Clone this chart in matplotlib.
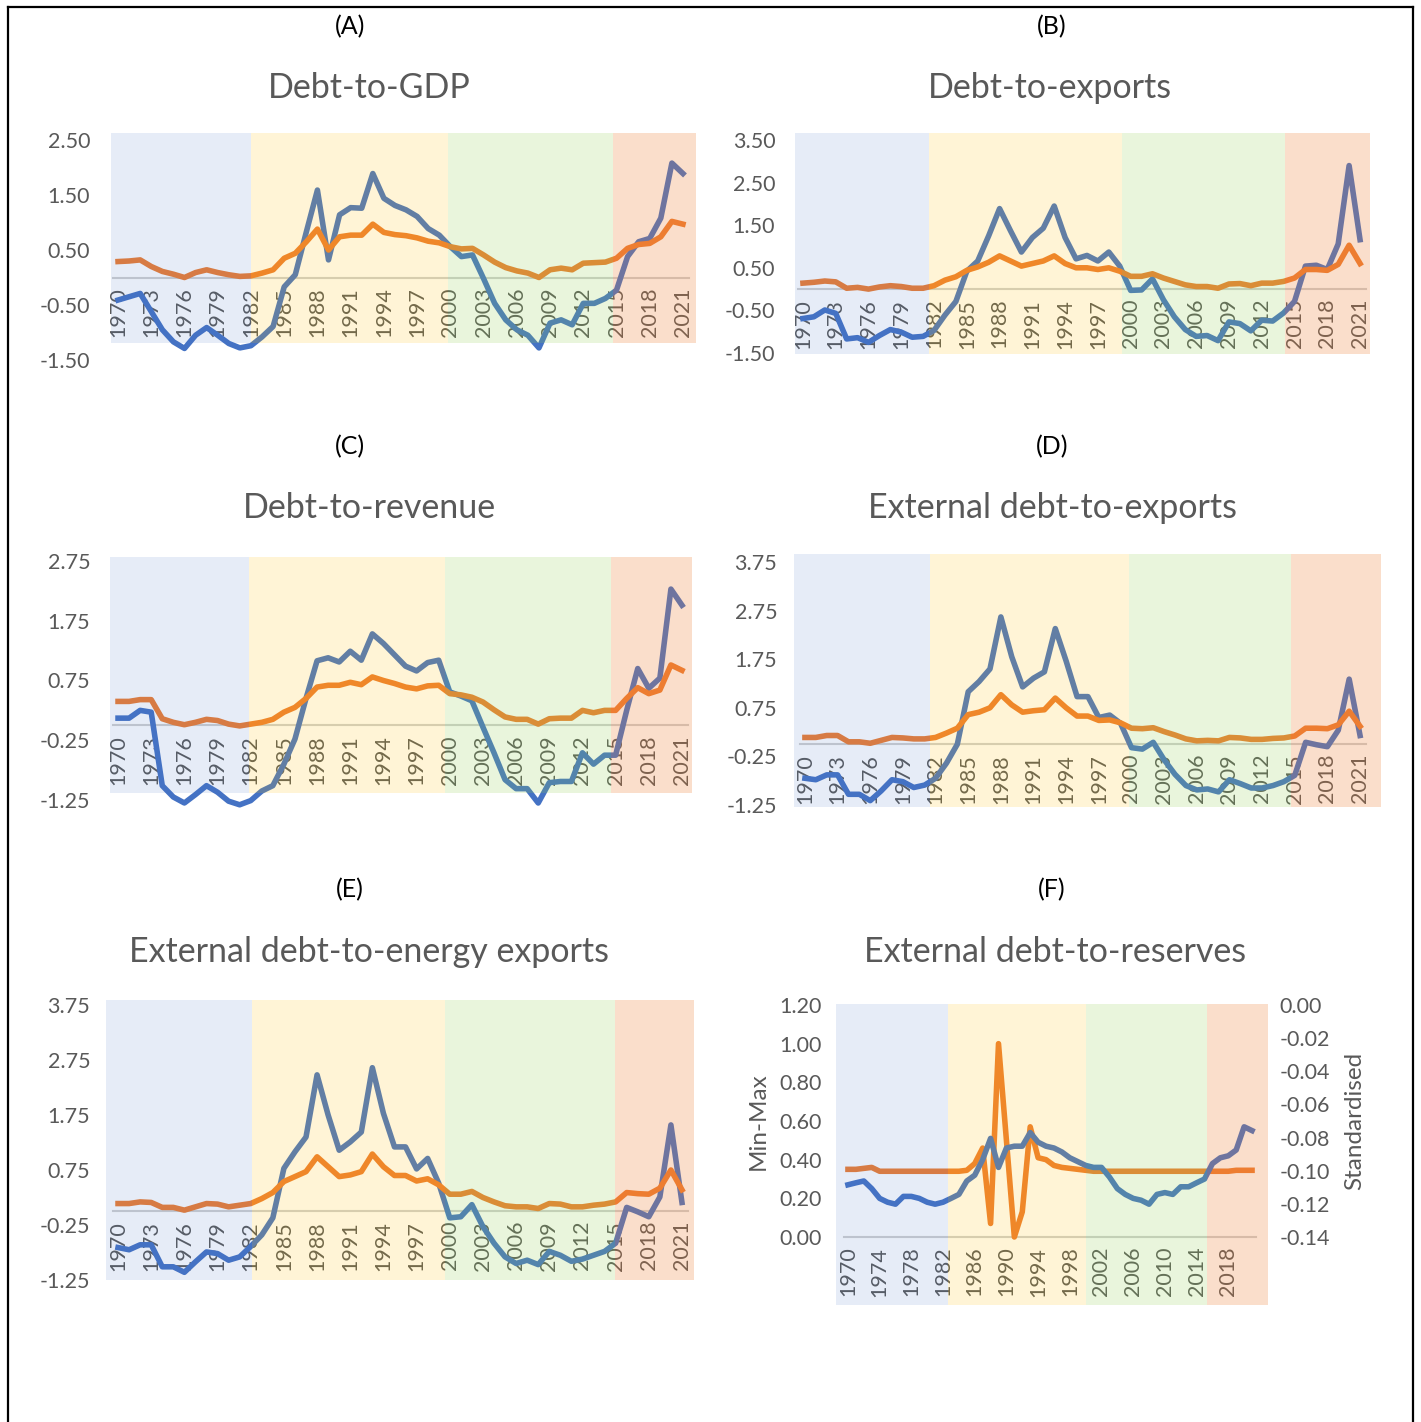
import matplotlib
matplotlib.use("Agg")
import matplotlib.pyplot as plt
from matplotlib.patches import Rectangle
from matplotlib.lines import Line2D

plt.rcParams['font.family'] = ['Lato', 'DejaVu Sans']

# ---- data ----
years = list(range(1970, 2022))

gdp_blue = [-0.41, -0.35, -0.29, -0.62, -0.95, -1.17, -1.29, -1.05, -0.91, -1.05,
            -1.20, -1.28, -1.24, -1.08, -0.89, -0.17, 0.05, 0.83, 1.59, 0.32,
            1.14, 1.27, 1.26, 1.89, 1.44, 1.31, 1.23, 1.11, 0.89, 0.77,
            0.56, 0.38, 0.41, -0.02, -0.47, -0.77, -0.95, -1.05, -1.28, -0.83,
            -0.77, -0.86, -0.47, -0.47, -0.38, -0.23, 0.38, 0.65, 0.71, 1.08,
            2.08, 1.89]
gdp_orange = [0.29, 0.30, 0.32, 0.20, 0.11, 0.06, 0.00, 0.09, 0.14, 0.09,
              0.05, 0.02, 0.03, 0.08, 0.14, 0.35, 0.44, 0.65, 0.88, 0.50,
              0.74, 0.77, 0.77, 0.97, 0.82, 0.78, 0.76, 0.72, 0.66, 0.63,
              0.56, 0.52, 0.53, 0.41, 0.28, 0.18, 0.12, 0.08, 0.00, 0.14,
              0.17, 0.14, 0.26, 0.27, 0.28, 0.35, 0.53, 0.60, 0.62, 0.74,
              1.02, 0.97]

exp_blue = [-0.69, -0.65, -0.49, -0.57, -1.17, -1.14, -1.25, -1.09, -0.95, -1.01,
            -1.13, -1.11, -0.97, -0.61, -0.29, 0.42, 0.66, 1.25, 1.89, 1.37,
            0.87, 1.21, 1.43, 1.95, 1.21, 0.71, 0.79, 0.66, 0.87, 0.54,
            -0.03, -0.02, 0.24, -0.25, -0.65, -0.95, -1.11, -1.09, -1.21, -0.77,
            -0.81, -0.98, -0.73, -0.75, -0.56, -0.29, 0.54, 0.56, 0.46, 1.06,
            2.90, 1.16]
exp_orange = [0.14, 0.16, 0.19, 0.17, 0.02, 0.04, 0.00, 0.05, 0.08, 0.06,
              0.02, 0.02, 0.08, 0.21, 0.29, 0.44, 0.52, 0.63, 0.78, 0.66,
              0.54, 0.60, 0.66, 0.78, 0.60, 0.50, 0.50, 0.46, 0.50, 0.42,
              0.30, 0.30, 0.36, 0.26, 0.18, 0.10, 0.06, 0.06, 0.02, 0.12,
              0.13, 0.08, 0.14, 0.14, 0.18, 0.26, 0.46, 0.46, 0.44, 0.58,
              1.03, 0.60]

rev_blue = [0.12, 0.12, 0.25, 0.22, -1.01, -1.20, -1.30, -1.16, -1.01, -1.12,
            -1.27, -1.33, -1.26, -1.10, -1.01, -0.65, -0.23, 0.45, 1.08, 1.13,
            1.06, 1.24, 1.09, 1.53, 1.37, 1.18, 0.99, 0.91, 1.05, 1.09,
            0.56, 0.49, 0.41, -0.03, -0.46, -0.91, -1.06, -1.06, -1.30, -0.96,
            -0.94, -0.94, -0.46, -0.65, -0.50, -0.50, 0.25, 0.95, 0.62, 0.79,
            2.28, 2.01]
rev_orange = [0.40, 0.40, 0.43, 0.43, 0.11, 0.05, 0.01, 0.05, 0.10, 0.08,
              0.02, -0.01, 0.02, 0.05, 0.10, 0.22, 0.30, 0.45, 0.64, 0.67,
              0.67, 0.72, 0.68, 0.81, 0.75, 0.70, 0.64, 0.61, 0.66, 0.67,
              0.53, 0.51, 0.47, 0.39, 0.26, 0.14, 0.10, 0.10, 0.02, 0.11,
              0.12, 0.12, 0.25, 0.21, 0.25, 0.25, 0.45, 0.63, 0.53, 0.59,
              1.01, 0.92]

extexp_blue = [-0.70, -0.73, -0.63, -0.63, -1.03, -1.03, -1.16, -0.96, -0.73, -0.77,
               -0.89, -0.84, -0.70, -0.39, 0.00, 1.08, 1.29, 1.55, 2.62, 1.80,
               1.18, 1.36, 1.49, 2.38, 1.71, 0.98, 0.98, 0.55, 0.60, 0.43,
               -0.07, -0.10, 0.04, -0.32, -0.62, -0.85, -0.94, -0.92, -0.98, -0.73,
               -0.81, -0.90, -0.90, -0.85, -0.77, -0.64, 0.04, -0.01, -0.05, 0.29,
               1.34, 0.18]
extexp_orange = [0.14, 0.14, 0.18, 0.18, 0.05, 0.05, 0.02, 0.08, 0.14, 0.13,
                 0.11, 0.11, 0.14, 0.23, 0.33, 0.61, 0.66, 0.75, 1.02, 0.81,
                 0.66, 0.69, 0.71, 0.95, 0.75, 0.58, 0.58, 0.49, 0.50, 0.44,
                 0.33, 0.32, 0.34, 0.26, 0.19, 0.11, 0.07, 0.08, 0.07, 0.14,
                 0.13, 0.10, 0.10, 0.12, 0.13, 0.17, 0.33, 0.33, 0.32, 0.40,
                 0.68, 0.37]

energy_blue = [-0.66, -0.70, -0.61, -0.61, -1.01, -1.01, -1.11, -0.92, -0.74, -0.77,
               -0.89, -0.83, -0.64, -0.43, -0.12, 0.78, 1.08, 1.35, 2.48, 1.75,
               1.11, 1.26, 1.44, 2.61, 1.78, 1.17, 1.17, 0.77, 0.96, 0.51,
               -0.12, -0.10, 0.12, -0.28, -0.58, -0.83, -0.95, -0.89, -0.97, -0.73,
               -0.80, -0.91, -0.87, -0.80, -0.73, -0.58, 0.07, -0.01, -0.10, 0.26,
               1.57, 0.16]
energy_orange = [0.14, 0.14, 0.17, 0.16, 0.07, 0.07, 0.02, 0.08, 0.14, 0.13,
                 0.08, 0.11, 0.14, 0.23, 0.34, 0.54, 0.63, 0.72, 0.99, 0.81,
                 0.63, 0.66, 0.72, 1.04, 0.81, 0.65, 0.65, 0.55, 0.59, 0.48,
                 0.31, 0.31, 0.36, 0.25, 0.17, 0.10, 0.08, 0.08, 0.05, 0.14,
                 0.13, 0.08, 0.08, 0.11, 0.13, 0.17, 0.34, 0.32, 0.31, 0.42,
                 0.75, 0.39]

# panel F: orange = Min-Max (left axis), blue = Standardised (right axis)
res_minmax = [0.35, 0.35, 0.355, 0.36, 0.34, 0.34, 0.34, 0.34, 0.34, 0.34,
              0.34, 0.34, 0.34, 0.34, 0.34, 0.345, 0.38, 0.46, 0.07, 1.00,
              0.50, 0.00, 0.13, 0.57, 0.41, 0.40, 0.37, 0.36, 0.355, 0.35,
              0.345, 0.34, 0.34, 0.34, 0.34, 0.34, 0.34, 0.34, 0.34, 0.34,
              0.34, 0.34, 0.34, 0.34, 0.34, 0.34, 0.34, 0.34, 0.34, 0.345,
              0.345, 0.345]
res_std = [-0.1085, -0.1073, -0.1062, -0.1108, -0.1167, -0.1190, -0.1202, -0.1155, -0.1155, -0.1167,
           -0.1190, -0.1202, -0.1190, -0.1167, -0.1143, -0.1062, -0.1027, -0.0933, -0.0805, -0.0980,
           -0.0863, -0.0852, -0.0852, -0.0770, -0.0828, -0.0852, -0.0863, -0.0887, -0.0922, -0.0945,
           -0.0968, -0.0980, -0.0980, -0.1038, -0.1108, -0.1143, -0.1167, -0.1178, -0.1202, -0.1143,
           -0.1132, -0.1143, -0.1097, -0.1097, -0.1073, -0.1050, -0.0957, -0.0922, -0.0910, -0.0875,
           -0.0735, -0.0758]

letters = ['(A)', '(B)', '(C)', '(D)', '(E)', '(F)']
titles = ['Debt-to-GDP', 'Debt-to-exports', 'Debt-to-revenue',
          'External debt-to-exports', 'External debt-to-energy exports',
          'External debt-to-reserves']

# ---- style ----
W, H = 1421, 1422
BLUE = '#4472C4'
ORANGE = '#ED7D31'
GREY = '#595959'
SHADE = ['#4472C4', '#FFC000', '#92D050', '#ED7D31']
SHADE_ALPHA = [0.13, 0.16, 0.20, 0.25]
TICK_FS = 15.5
LW = 4.0

fig = plt.figure(figsize=(W / 100, H / 100), dpi=100)


def px_axes(x0, x1, ytop, ybot):
    return fig.add_axes([x0 / W, 1 - ybot / H, (x1 - x0) / W, (ybot - ytop) / H])


def fig_text(x, y, s, **kw):
    fig.text(x / W, 1 - y / H, s, ha='center', va='center', **kw)


def shade(ax, edges, ylo, yhi, transform=None):
    for i in range(4):
        r = Rectangle((edges[i], ylo), edges[i + 1] - edges[i], yhi - ylo,
                      facecolor=SHADE[i], alpha=SHADE_ALPHA[i], lw=0,
                      zorder=10, clip_on=False)
        if transform is not None:
            r.set_transform(transform)
        ax.add_patch(r)


def style_axes(ax, yticks, xstep):
    ax.set_xlim(1969.5, 2021.5)
    ax.set_ylim(yticks[0], yticks[-1])
    ax.set_yticks(yticks)
    ax.set_yticklabels([f'{t:.2f}' for t in yticks])
    ax.set_xticks(years[::xstep])
    ax.set_xticklabels([str(y) for y in years[::xstep]])
    for s in ['top', 'right', 'left']:
        ax.spines[s].set_visible(False)
    ax.spines['bottom'].set_position(('data', 0))
    ax.spines['bottom'].set_color('#D0D0D0')
    ax.spines['bottom'].set_linewidth(1.5)
    ax.tick_params(axis='x', length=0, pad=7, labelrotation=90,
                   labelsize=TICK_FS, labelcolor=GREY)
    ax.tick_params(axis='y', length=0, pad=16, labelsize=TICK_FS, labelcolor=GREY)
    ax.patch.set_visible(False)


def line_panel(box, blue, orange, yticks, edges, shade_y):
    ax = px_axes(*box)
    style_axes(ax, yticks, 3)
    ax.plot(years, blue, color=BLUE, lw=LW, solid_joinstyle='round', zorder=3, clip_on=False)
    ax.plot(years, orange, color=ORANGE, lw=LW, solid_joinstyle='round', zorder=4, clip_on=False)
    shade(ax, edges, *shade_y)
    return ax


# A
line_panel((112.5, 688.5, 140, 360), gdp_blue, gdp_orange,
           [-1.5, -0.5, 0.5, 1.5, 2.5],
           [1969.34, 1982.0, 1999.77, 2014.65, 2022.15], (-1.19, 2.63))
# B
line_panel((797.5, 1365.5, 140, 353), exp_blue, exp_orange,
           [-1.5, -0.5, 0.5, 1.5, 2.5, 3.5],
           [1969.3, 1981.5, 1999.2, 2014.1, 2021.9], (-1.53, 3.66))
# C
line_panel((112.5, 687.5, 561, 800), rev_blue, rev_orange,
           [-1.25, -0.25, 0.75, 1.75, 2.75],
           [1969.3, 1981.8, 1999.6, 2014.6, 2021.95], (-1.13, 2.82))
# D
line_panel((799.5, 1365.5, 562, 805), extexp_blue, extexp_orange,
           [-1.25, -0.25, 0.75, 1.75, 2.75, 3.75],
           [1969.0, 1981.5, 1999.8, 2014.7, 2022.9], (-1.30, 3.92))
# E
line_panel((112.5, 687.5, 1005, 1280), energy_blue, energy_orange,
           [-1.25, -0.25, 0.75, 1.75, 2.75, 3.75],
           [1968.9, 1982.1, 1999.6, 2014.9, 2022.1], (-1.25, 3.85))

# F (two y axes)
axf = px_axes(844, 1256, 1005, 1237)
style_axes(axf, [0.0, 0.2, 0.4, 0.6, 0.8, 1.0, 1.2], 4)
axf.plot(years, res_minmax, color=ORANGE, lw=LW, solid_joinstyle='round', zorder=3, clip_on=False)
axr = axf.twinx()
axr.set_ylim(-0.14, 0.0)
std_ticks = [-0.14, -0.12, -0.10, -0.08, -0.06, -0.04, -0.02, 0.0]
axr.set_yticks(std_ticks)
axr.set_yticklabels(['-0.14', '-0.12', '-0.10', '-0.08', '-0.06', '-0.04', '-0.02', '0.00'])
for s in axr.spines.values():
    s.set_visible(False)
axr.tick_params(axis='y', length=0, pad=17, labelsize=TICK_FS, labelcolor=GREY)
axr.plot(years, res_std, color=BLUE, lw=LW, solid_joinstyle='round', zorder=4, clip_on=False)
shade(axr, [1968.5, 1982.6, 2000.1, 2015.3, 2023.0], -0.35, 1.205, transform=axf.transData)
axr.set_ylim(-0.14, 0.0)

fig_text(758, 1121, 'Min-Max', rotation=90, fontsize=17.5, color=GREY)
fig_text(1355, 1121, 'Standardised', rotation=90, fontsize=17.5, color=GREY)

# panel letters and titles
letter_pos = [(350, 27), (1052, 27), (350, 447), (1052, 447), (350, 890), (1052, 890)]
title_pos = [(369, 87), (1050, 87), (369, 507), (1052, 507), (369, 950), (1055, 950)]
for s, (x, y) in zip(letters, letter_pos):
    fig_text(x, y, s, fontsize=18, color='black')
for s, (x, y) in zip(titles, title_pos):
    fig_text(x, y + 1.5, s, fontsize=24.5, color=GREY)

# outer frame (no bottom edge)
for xs, ys in [([8, 8], [7, H]), ([8, 1413], [7, 7]), ([1413, 1413], [7, H])]:
    fig.add_artist(Line2D([x / W for x in xs], [1 - y / H for y in ys],
                          color='black', lw=1.6))

fig.savefig('out.png', dpi=100, facecolor='white')
